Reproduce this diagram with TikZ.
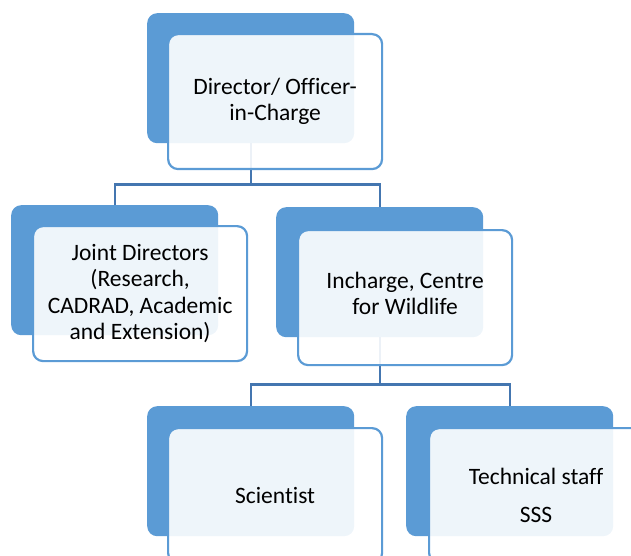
\documentclass[tikz,border=0pt]{standalone}
\usepackage{fontspec}
\setmainfont{Carlito}[Ligatures=NoCommon]
\definecolor{smblue}{RGB}{91,155,213}
\definecolor{connblue}{RGB}{68,118,176}
\begin{document}
\begin{tikzpicture}[x=1pt,y=-1pt,
  backbox/.style={draw=none,fill=smblue,rounded corners=10pt,minimum width=207pt,minimum height=130pt,inner sep=0pt,anchor=north west},
  boxtext/.style={align=center,inner sep=0pt,font=\fontsize{23.5}{26.5}\selectfont},
  frontbox/.style={draw=smblue,line width=2.2pt,fill=white,fill opacity=0.9,text opacity=1,rounded corners=10pt,minimum width=214pt,minimum height=135pt,anchor=north west,boxtext},
  conn/.style={draw=connblue,line width=2.2pt}]
\useasboundingbox (0,0) rectangle (631,556);
% back boxes
\node[backbox] (topB) at (147,13) {};
\node[backbox] (jdB) at (11,205) {};
\node[backbox] (icB) at (276,207) {};
\node[backbox] (sciB) at (147,406) {};
\node[backbox] (techB) at (406,406) {};
% connectors
\draw[conn] (topB.south) -- ++(0,41) coordinate (h1) -| (jdB.north);
\draw[conn] (h1) -| (icB.north);
\draw[conn] (icB.south) -- ++(0,47) coordinate (h2) -| (sciB.north);
\draw[conn] (h2) -| (techB.north);
% front boxes
\node[frontbox] (topF) at (167,33) {Director/ Officer-\\in-Charge};
\node[frontbox] (jdF) at (32,225) {Joint Directors\\(Research,\\CADRAD, Academic\\and Extension)};
\node[frontbox] (icF) at (297,229) {};
\node[boxtext] (icT) at ([yshift=4pt]icF.center) {Incharge, Centre\\for Wildlife};
\node[frontbox] (sciF) at (167,427) {Scientist};
\node[frontbox] (techF) at (428,427) {Technical staff\\[11pt]SSS};
\end{tikzpicture}
\end{document}
